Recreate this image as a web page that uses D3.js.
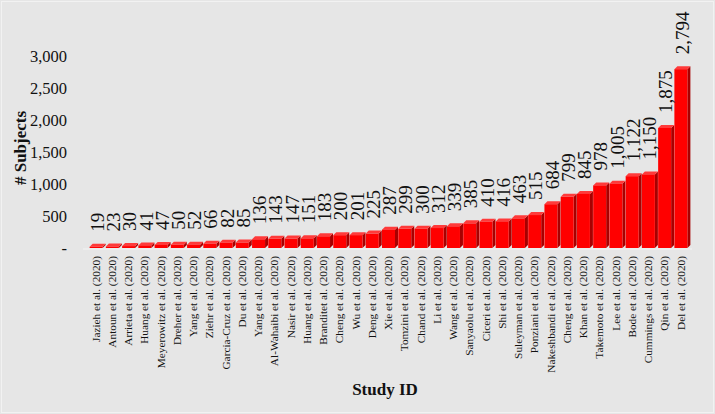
<!DOCTYPE html>
<html><head><meta charset="utf-8">
<script src="https://cdn.jsdelivr.net/npm/d3@7"></script>
<style>html,body{margin:0;padding:0;background:#e6e6e6;}svg{display:block;}</style>
</head><body>
<svg id="chart" width="715" height="414"></svg>
<script>
const studies = ["Jazieh et al. (2020)","Antoun et al. (2020)","Arrieta et al. (2020)","Huang et al. (2020)","Meyerowitz et al. (2020)","Dreher et al. (2020)","Yang et al. (2020)","Ziehr et al. (2020)","Garcia-Cruz et al. (2020)","Du et al. (2020)","Yang et al. (2020) ","Al-Wahaibi et al. (2020)","Nasir et al. (2020)","Huang et al. (2020) ","Branditet al. (2020)","Cheng et al. (2020)","Wu et al. (2020)","Deng et al. (2020)","Xie et al. (2020)","Tomzini et al. (2020)","Chand et al. (2020)","Li et al. (2020)","Wang et al. (2020)","Sanyaolu et al. (2020)","Ciceri et al. (2020)","Shi et al. (2020)","Suleyman et al. (2020)","Ponziani et al. (2020)","Nakeshbandi et al. (2020)","Cheng et al. (2020) ","Khan et al. (2020)","Takemoto et al. (2020)","Lee et al. (2020)","Bode et al. (2020)","Cummings et al. (2020)","Qin et al. (2020)","Del et al. (2020)"];
const subjects = [19,23,30,41,47,50,52,66,82,85,136,143,147,151,183,200,201,225,287,299,300,312,339,385,410,416,463,515,684,799,845,978,1005,1122,1150,1875,2794];
const yTicks = [0,500,1000,1500,2000,2500,3000];

const svg = d3.select("#chart");
const W = 715, H = 414;
svg.append("rect").attr("x",0).attr("y",0).attr("width",W).attr("height",H).attr("fill","#e6e6e6");
svg.append("rect").attr("x",1.5).attr("y",1.5).attr("width",W-3).attr("height",H-3).attr("fill","none").attr("stroke","#f2f2f2").attr("stroke-width",1);

const x = d3.scaleBand().domain(studies).range([88,689]).paddingInner(0.2).paddingOuter(0.1);
const y = d3.scaleLinear().domain([0,3000]).range([248,56]);
const dx = 3, dy = 3;
const serif = "'Liberation Serif','Times New Roman',serif";

// y axis
const yAxis = d3.axisLeft(y).tickValues(yTicks).tickSize(0).tickPadding(0)
  .tickFormat(d => d === 0 ? "-" : d3.format(",")(d));
const gy = svg.append("g").attr("transform","translate(67,0)").call(yAxis);
gy.select(".domain").remove();
gy.selectAll("text").attr("font-family",serif).attr("font-size",16.5).attr("fill","#111").attr("dy","0.32em");

// baseline
svg.append("line").attr("x1",83).attr("x2",692).attr("y1",249).attr("y2",249).attr("stroke","#f4f4f4").attr("stroke-width",1.2);

// bars (3D)
const g = svg.append("g");
const bw = x.bandwidth();
studies.forEach((s,i) => {
  const v = subjects[i];
  const x0 = x(s), yt = y(v), yb = y(0);
  g.append("path").attr("d",`M${x0+bw},${yt} L${x0+bw+dx},${yt-dy} L${x0+bw+dx},${yb-dy} L${x0+bw},${yb} Z`).attr("fill","#a80000");
  g.append("path").attr("d",`M${x0},${yt} L${x0+dx},${yt-dy} L${x0+bw+dx},${yt-dy} L${x0+bw},${yt} Z`).attr("fill","#ff3a3a");
  g.append("rect").attr("x",x0).attr("y",yt).attr("width",bw).attr("height",yb-yt).attr("fill","#ff0000");
});

// value labels
svg.append("g").selectAll("text").data(studies).join("text")
  .attr("transform",(d,i)=>`translate(${x(d)+bw/2+1},${y(subjects[i])-dy-12}) rotate(-90)`)
  .attr("dy","0.35em")
  .attr("text-anchor","start")
  .attr("font-family",serif).attr("font-size",19).attr("fill","#111")
  .text((d,i)=>d3.format(",")(subjects[i]));

// x axis labels
const xAxis = d3.axisBottom(x).tickSize(0).tickPadding(0);
const gx = svg.append("g").attr("transform","translate(0,256)").call(xAxis);
gx.select(".domain").remove();
gx.selectAll("text")
  .attr("transform","rotate(-90)")
  .attr("text-anchor","end")
  .attr("x",0).attr("y",0).attr("dx",0).attr("dy","0.32em")
  .attr("font-family",serif).attr("font-size",11.3).attr("fill","#111")
  .text(d => d.trim());

// axis titles
svg.append("text").attr("x",385).attr("y",395).attr("text-anchor","middle")
  .attr("font-family",serif).attr("font-weight","bold").attr("font-size",17).attr("fill","#111").text("Study ID");
svg.append("text").attr("transform","translate(20,148) rotate(-90)").attr("text-anchor","middle").attr("dy","0.35em")
  .attr("font-family",serif).attr("font-weight","bold").attr("font-size",17).attr("fill","#111").text("# Subjects");
</script>
</body></html>
